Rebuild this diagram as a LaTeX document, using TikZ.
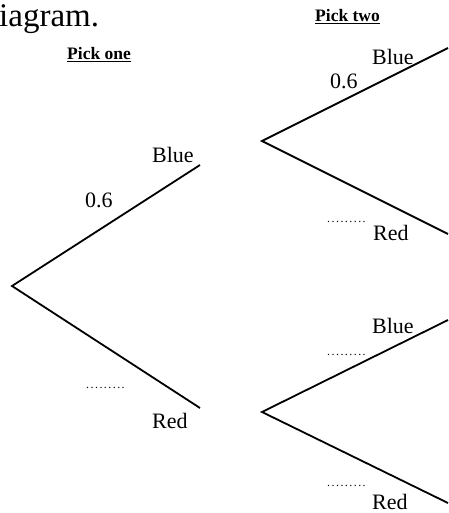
\documentclass[tikz,border=0pt]{standalone}
\usepackage{fontspec}
\setmainfont{Liberation Serif}
\newfontfamily\dotfont[LetterSpace=12]{Liberation Serif}
\begin{document}
\begin{tikzpicture}[x=1pt,y=-1pt,
  branch/.style={line width=1.8pt},
  lbl/.style={anchor=base west,inner sep=0pt,text depth=0pt,font=\fontsize{22}{24}\selectfont},
  head/.style={anchor=base west,inner sep=0pt,font=\fontsize{17.5}{20}\selectfont\bfseries},
  dots/.style={anchor=base west,inner sep=0pt,text depth=0pt,font=\dotfont\fontsize{12}{14}\selectfont}]
\useasboundingbox (0,0) rectangle (448,513);
% title fragment
\node[anchor=base west,inner sep=0pt,font=\fontsize{33}{36}\selectfont] (title) at (-1,27) {iagram.};
\node[head] (pickone) at (67,60) {\underline{Pick one}};
\node[head] (picktwo) at (315,22) {\underline{Pick two}};
% first tree
\coordinate (r1) at (12,286);
\coordinate (b1) at (200,165);
\coordinate (d1) at (200,408);
\draw[branch] (b1) -- (r1) -- (d1);
\node[lbl] (blue1) at (152,162) {Blue};
\node[lbl] (p1) at (85,207) {0.6};
\node[dots] (q1) at (86,388) {.........};
\node[lbl] (red1) at (152,428) {Red};
% second tree, top
\coordinate (r2) at (262,141);
\coordinate (b2) at (448,48);
\coordinate (d2) at (448,234);
\draw[branch] (b2) -- (r2) -- (d2);
\node[lbl] (blue2) at (372,65) {Blue};
\node[lbl] (p2) at (330,89) {0.6};
\node[dots] (q2) at (327,222) {.........};
\node[lbl] (red2) at (373,240) {Red};
% second tree, bottom
\coordinate (r3) at (262,412);
\coordinate (b3) at (448,320);
\coordinate (d3) at (448,503);
\draw[branch] (b3) -- (r3) -- (d3);
\node[lbl] (blue3) at (372,333) {Blue};
\node[dots] (q3) at (327,355) {.........};
\node[dots] (q4) at (327,486) {.........};
\node[lbl] (red3) at (372,509) {Red};
\end{tikzpicture}
\end{document}
